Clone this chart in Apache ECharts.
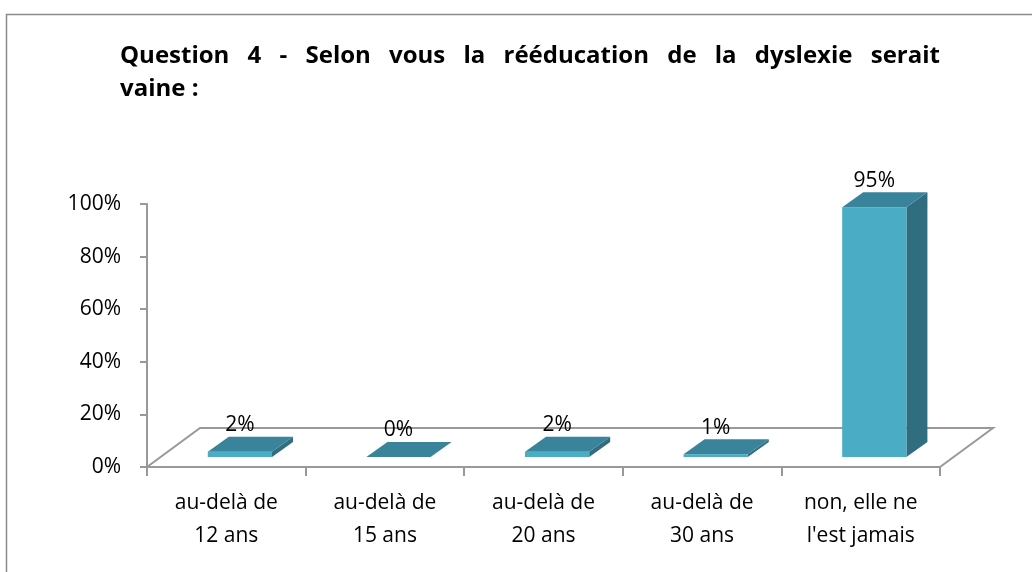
<!DOCTYPE html>
<html>
<head>
<meta charset="utf-8">
<script src="https://cdn.jsdelivr.net/npm/echarts@6/dist/echarts.min.js"></script>
<style>
html,body{margin:0;padding:0;background:#fff;}
#chart{width:1032px;height:572px;}
</style>
</head>
<body>
<div id="chart"></div>
<script>
const titleLine1 = ['Question', '4', '-', 'Selon', 'vous', 'la', 'rééducation', 'de', 'la', 'dyslexie', 'serait'];
const titleLine2 = 'vaine :';
const categories = ['au-delà de\n12 ans', 'au-delà de\n15 ans', 'au-delà de\n20 ans', 'au-delà de\n30 ans', "non, elle ne\nl'est jamais"];
const values = [0.02, 0.00, 0.02, 0.01, 0.95];
const valueLabels = ['2%', '0%', '2%', '1%', '95%'];
const yTickLabels = ['0%', '20%', '40%', '60%', '80%', '100%'];

const FONT = 'Open Sans';
const FRONT = '#4BACC6', TOP = '#39849A', SIDE = '#306E7F';
const FLOOR_DX = 53, FLOOR_DY = -39;
const BAR_OX = 13.6, BAR_OY = -10, BAR_DX = 21, BAR_DY = -15;
const TITLE_SIZE = 24, TITLE_WIDTH = 820;

// justify first title line: compute width of wide spaces
const cv = document.createElement('canvas').getContext('2d');
cv.font = 'bold ' + TITLE_SIZE + 'px "' + FONT + '"';
const wordsW = titleLine1.reduce((s, w) => s + cv.measureText(w).width, 0);
cv.font = 'bold 100px "' + FONT + '"';
const spacePer100 = cv.measureText(' ').width;
const gap = (TITLE_WIDTH - wordsW) / (titleLine1.length - 1);
const spSize = Math.max(TITLE_SIZE, gap / spacePer100 * 100);
const titleText = titleLine1.join('{sp| }') + '\n' + titleLine2;

const chart = echarts.init(document.getElementById('chart'));

function floorItem(params, api) {
  const band = api.size([1, 0])[0];
  const p0 = api.coord([0, 0]);
  const p4 = api.coord([categories.length - 1, 0]);
  const xl = p0[0] - band / 2, xr = p4[0] + band / 2, y = p0[1];
  return {
    type: 'polyline',
    shape: { points: [[xl, y], [xl + FLOOR_DX, y + FLOOR_DY], [xr + FLOOR_DX, y + FLOOR_DY], [xr, y]] },
    style: { stroke: '#999999', lineWidth: 2, fill: null }
  };
}

function barItem(params, api) {
  const idx = api.value(0), v = api.value(1);
  const base = api.coord([idx, 0]);
  const top = api.coord([idx, v]);
  const band = api.size([1, 0])[0];
  const w = band * 0.405;
  const cx = base[0] + BAR_OX;
  const x0 = cx - w / 2, x1 = cx + w / 2;
  const yb = base[1] + BAR_OY, yt = top[1] + BAR_OY;
  return {
    type: 'group',
    children: [
      { type: 'polygon', shape: { points: [[x1, yt], [x1 + BAR_DX, yt + BAR_DY], [x1 + BAR_DX, yb + BAR_DY], [x1, yb]] }, style: { fill: SIDE } },
      { type: 'polygon', shape: { points: [[x0, yt], [x1, yt], [x1, yb], [x0, yb]] }, style: { fill: FRONT } },
      { type: 'polygon', shape: { points: [[x0, yt], [x0 + BAR_DX, yt + BAR_DY], [x1 + BAR_DX, yt + BAR_DY], [x1, yt]] }, style: { fill: TOP } },
      { type: 'text', x: cx, y: yt + BAR_DY - 1, style: { text: valueLabels[idx], font: '21px "' + FONT + '"', fill: '#000', align: 'center', verticalAlign: 'bottom' } }
    ]
  };
}

chart.setOption({
  animation: false,
  backgroundColor: '#fff',
  graphic: [{
    type: 'rect', left: 4, top: 12, shape: { width: 1040, height: 580 },
    style: { fill: null, stroke: '#8a8a8a', lineWidth: 1.5 }, z: -1
  }],
  title: {
    text: titleText, left: 120, top: 40, padding: 0,
    textStyle: { fontFamily: FONT, fontSize: TITLE_SIZE, fontWeight: 'bold', color: '#000', lineHeight: 33,
      rich: { sp: { fontFamily: FONT, fontSize: spSize, fontWeight: 'bold', lineHeight: 33 } } }
  },
  grid: { left: 147, right: 92, top: 204, bottom: 105 },
  xAxis: {
    type: 'category', data: categories,
    axisLine: { lineStyle: { color: '#999999', width: 2 } },
    axisTick: { show: true, length: 9, lineStyle: { color: '#999999', width: 2 } },
    axisLabel: { margin: 20, color: '#000', fontFamily: FONT, fontSize: 21, lineHeight: 33 },
    splitLine: { show: false }
  },
  yAxis: {
    type: 'value', min: 0, max: 1, interval: 0.2,
    axisLine: { show: true, lineStyle: { color: '#999999', width: 2 } },
    axisTick: { show: true, length: 7, lineStyle: { color: '#999999', width: 2 } },
    axisLabel: { margin: 26, color: '#000', fontFamily: FONT, fontSize: 21,
      formatter: function (v) { return yTickLabels[Math.round(v / 0.2)]; } },
    splitLine: { show: false }
  },
  series: [
    { type: 'custom', renderItem: floorItem, data: [[0, 0]], z: 1, silent: true },
    { type: 'custom', renderItem: barItem, data: values.map((v, i) => [i, v]), z: 2 }
  ]
});
</script>
</body>
</html>
